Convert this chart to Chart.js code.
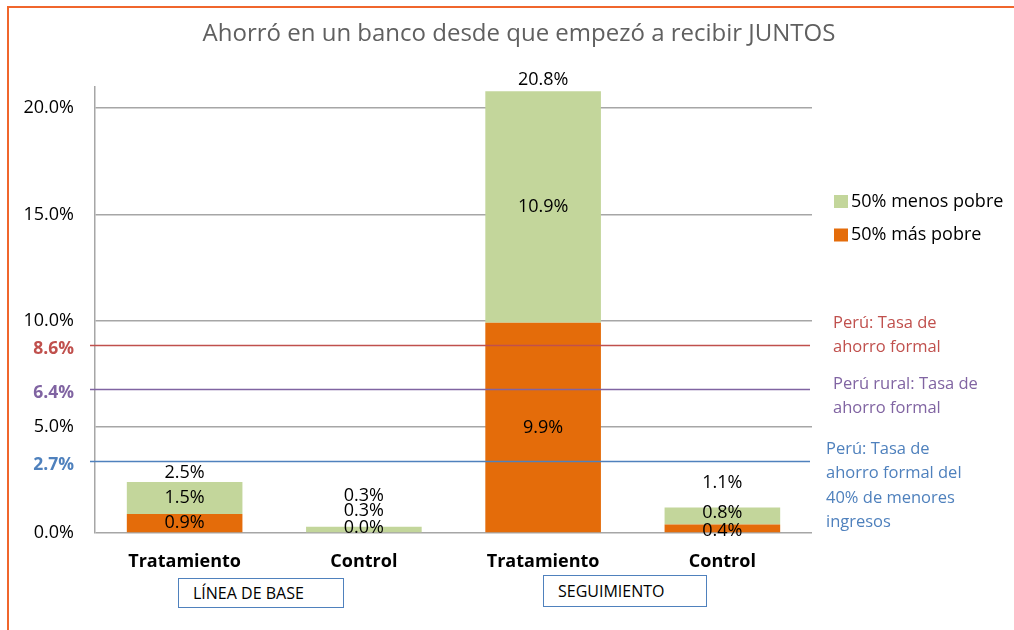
<!DOCTYPE html>
<html>
<head>
<meta charset="utf-8">
<script src="https://cdn.jsdelivr.net/npm/chart.js@4.4.1/dist/chart.umd.min.js"></script>
<style>
  html, body { margin: 0; padding: 0; background: #fff; }
  #wrap { position: relative; width: 1014px; height: 630px; overflow: hidden; }
  #frame { position: absolute; left: 7px; top: 6px; right: -4px; bottom: -4px;
           border-top: 2px solid #F0662C; border-left: 2px solid #F0662C; pointer-events: none; }
  .tag { position: absolute; border: 1.5px solid #4F81BD; background: #fff;
         font: 16px "Open Sans", sans-serif; color: #000; box-sizing: border-box; line-height: 1; }
  #tagBase { left: 178px; top: 578px; width: 166px; height: 30px; padding: 6px 0 0 14px; }
  #tagSeg  { left: 543px; top: 575px; width: 164px; height: 32px; padding: 7px 0 0 14px; }
</style>
</head>
<body>
<div id="wrap">
  <canvas id="c" width="1014" height="630"></canvas>
  <div id="frame"></div>
  <div class="tag" id="tagBase">LÍNEA DE BASE</div>
  <div class="tag" id="tagSeg">SEGUIMIENTO</div>
</div>
<script>
// data
const TITLE = 'Ahorró en un banco desde que empezó a recibir JUNTOS';
const categories = ['Tratamiento', 'Control', 'Tratamiento', 'Control'];
const masPobre = [0.9, 0.0, 9.9, 0.4];     // 50% más pobre (bottom)
const menosPobre = [1.5, 0.3, 10.9, 0.8];  // 50% menos pobre (top)
const totals = [2.5, 0.3, 20.8, 1.1];
const yTicks = [0, 5, 10, 15, 20];

// reference lines: labels as printed, level where the line sits in the picture
const refLabels = ['8.6%', '6.4%', '2.7%'];
const refLineAt = [8.85, 6.76, 3.4];
const refNotes = [
  ['Perú: Tasa de', 'ahorro formal'],
  ['Perú rural: Tasa de', 'ahorro formal'],
  ['Perú: Tasa de', 'ahorro formal del', '40% de menores', 'ingresos'],
];

// styles
const C_GREEN = '#C3D69B';
const C_ORANGE = '#E46C0A';
const C_GRID = '#A6A6A6';
const refColors = ['#C0504D', '#8064A2', '#4F81BD'];
const noteX = [21, 21, 14];          // px right of plot area
const noteY = [323, 384, 449];       // first line centre
const NOTE_LH = 24.5;
// label nudges (px), as the picture has them
const nudgeMas = [0, -5, 0, 2];
const nudgeMenos = [0, -19, 0, -3];
const totalGap = [9, 31, 11, 25];

const FONT = '"Open Sans", sans-serif';

const overlay = {
  id: 'overlay',
  afterDatasetsDraw(chart) {
    const { ctx, chartArea: a, scales: { y } } = chart;
    ctx.save();

    // title
    ctx.fillStyle = '#606060';
    ctx.font = '24px ' + FONT;
    ctx.textAlign = 'center';
    ctx.textBaseline = 'middle';
    ctx.fillText(TITLE, 519, 34);

    // reference lines and their labels
    refLineAt.forEach((v, i) => {
      const py = Math.round(y.getPixelForValue(v)) + 0.5;
      ctx.strokeStyle = refColors[i];
      ctx.lineWidth = 1.5;
      ctx.beginPath();
      ctx.moveTo(a.left - 5, py);
      ctx.lineTo(a.right - 2, py);
      ctx.stroke();
      ctx.fillStyle = refColors[i];
      ctx.font = 'bold 17.5px ' + FONT;
      ctx.textAlign = 'right';
      ctx.textBaseline = 'middle';
      ctx.fillText(refLabels[i], a.left - 21, py + 3.5);
    });

    // segment labels
    ctx.fillStyle = '#000';
    ctx.font = '18px ' + FONT;
    ctx.textAlign = 'center';
    ctx.textBaseline = 'middle';
    const m0 = chart.getDatasetMeta(0).data;
    const m1 = chart.getDatasetMeta(1).data;
    m0.forEach((bar, i) => {
      ctx.fillText(masPobre[i].toFixed(1) + '%', bar.x, (bar.y + bar.base) / 2 + nudgeMas[i]);
    });
    m1.forEach((bar, i) => {
      ctx.fillText(menosPobre[i].toFixed(1) + '%', bar.x, (bar.y + bar.base) / 2 + nudgeMenos[i]);
      ctx.fillText(totals[i].toFixed(1) + '%', bar.x, bar.y - totalGap[i]);
    });

    // legend
    const items = [[chart.data.datasets[1].label, C_GREEN], [chart.data.datasets[0].label, C_ORANGE]];
    ctx.textAlign = 'left';
    ctx.font = '18px ' + FONT;
    items.forEach(([txt, col], i) => {
      const cy = 201.5 + i * 33.5;
      ctx.fillStyle = col;
      ctx.fillRect(a.right + 22, cy - 6.5, 14, 13);
      ctx.fillStyle = '#000';
      ctx.fillText(txt, a.right + 39, cy);
    });

    // notes beside the reference lines
    ctx.font = '16.5px ' + FONT;
    refNotes.forEach((lines, i) => {
      ctx.fillStyle = refColors[i];
      lines.forEach((t, k) => ctx.fillText(t, a.right + noteX[i], noteY[i] + k * NOTE_LH));
    });

    ctx.restore();
  }
};

new Chart(document.getElementById('c'), {
  type: 'bar',
  data: {
    labels: categories,
    datasets: [
      { label: '50% más pobre', data: masPobre, backgroundColor: C_ORANGE, borderWidth: 0 },
      { label: '50% menos pobre', data: menosPobre, backgroundColor: C_GREEN, borderWidth: 0 },
    ]
  },
  options: {
    responsive: false,
    animation: false,
    devicePixelRatio: 1,
    layout: { padding: { left: 0, right: 202, top: 87, bottom: 0 } },
    datasets: { bar: { categoryPercentage: 1, barPercentage: 0.645 } },
    plugins: { legend: { display: false }, title: { display: false }, tooltip: { enabled: false } },
    scales: {
      x: {
        stacked: true,
        grid: { display: false },
        border: { display: false },
        ticks: { color: '#000', font: { family: FONT, size: 18, weight: 'bold' }, padding: 10 },
        afterFit: (s) => { s.height = 97; },
      },
      y: {
        stacked: true,
        min: 0,
        max: 21,
        afterBuildTicks: (s) => { s.ticks = yTicks.map(v => ({ value: v })); },
        afterFit: (s) => { s.width = 95; },
        grid: { color: C_GRID, lineWidth: 1.5, drawTicks: false },
        border: { color: C_GRID, width: 1.5 },
        ticks: {
          color: '#000',
          padding: 21,
          font: { family: FONT, size: 18 },
          callback: (v) => Number(v).toFixed(1) + '%',
        },
      }
    }
  },
  plugins: [overlay]
});
</script>
</body>
</html>
